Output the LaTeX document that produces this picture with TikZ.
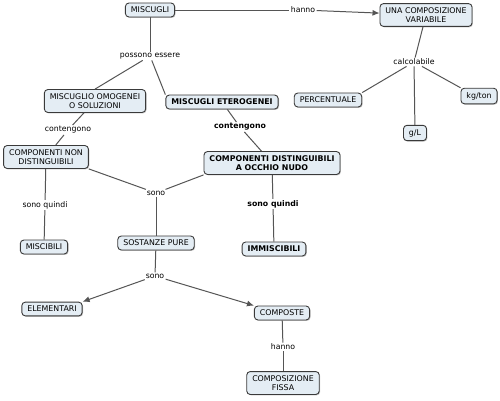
\documentclass[tikz,border=0pt]{standalone}
\usepackage{fontspec}
\setmainfont{DejaVu Sans}
\usetikzlibrary{shadows,arrows.meta}
\definecolor{boxfill}{HTML}{E4EDF4}
\definecolor{boxline}{HTML}{3A3A3A}
\definecolor{linkcol}{HTML}{555555}
\tikzset{
  concept/.style={draw=boxline, fill=boxfill, rounded corners=3.5bp, line width=0.9pt,
    drop shadow={shadow xshift=0.9bp, shadow yshift=-0.9bp, opacity=0.45},
    align=center, font=\fontsize{7.9}{9}\selectfont, inner xsep=5.5bp, inner ysep=4bp},
  bconcept/.style={concept, font=\fontsize{7.9}{9}\selectfont\bfseries},
  lbl/.style={fill=white, inner sep=1.2bp, font=\fontsize{7.8}{9}\selectfont},
  blbl/.style={lbl, font=\fontsize{7.8}{9}\selectfont\bfseries},
  conn/.style={draw=linkcol, line width=1pt},
  arr/.style={conn, -{Latex[length=7bp,width=6bp]}}
}
\begin{document}
\begin{tikzpicture}[x=1bp,y=-1bp]
\useasboundingbox (0,0) rectangle (500,400);
\fill[white] (0,0) rectangle (500,400);
% concepts
\node[concept] (misc) at (150,10) {MISCUGLI};
\node[concept] (ucv) at (426,15) {UNA COMPOSIZIONE\\VARIABILE};
\node[concept] (omo) at (95,101) {MISCUGLIO OMOGENEI\\O SOLUZIONI};
\node[bconcept] (ete) at (222,102) {MISCUGLI ETEROGENEI};
\node[concept] (perc) at (328,100) {PERCENTUALE};
\node[concept] (kg) at (479,96) {kg/ton};
\node[concept] (gl) at (415,133) {g/L};
\node[concept] (cnd) at (46,157) {COMPONENTI NON\\DISTINGUIBILI};
\node[bconcept] (cd) at (272,163) {COMPONENTI DISTINGUIBILI\\A OCCHIO NUDO};
\node[concept] (mis) at (44,247) {MISCIBILI};
\node[concept] (sp) at (156,243) {SOSTANZE PURE};
\node[bconcept] (imm) at (274,249) {IMMISCIBILI};
\node[concept] (el) at (52,309) {ELEMENTARI};
\node[concept] (comp) at (282,313) {COMPOSTE};
\node[concept] (cf) at (283,383) {COMPOSIZIONE\\FISSA};
% link labels
\node[lbl] (hanno1) at (303,10) {hanno};
\node[lbl] (poss) at (150,56) {possono essere};
\node[lbl] (calc) at (414,62) {calcolabile};
\node[lbl] (cont1) at (68,130) {contengono};
\node[blbl] (cont2) at (240,127) {contengono};
\node[lbl] (sono1) at (156,193) {sono};
\node[lbl] (sq1) at (45,205) {sono quindi};
\node[blbl] (sq2) at (273,204) {sono quindi};
\node[lbl] (sono2) at (155,276) {sono};
\node[lbl] (hanno2) at (283,347) {hanno};
% connectors
\draw[conn] (misc) -- (hanno1);
\draw[arr] (hanno1) -- (ucv);
\draw[conn] (misc) -- (poss);
\draw[conn] (poss) -- (omo.north);
\draw[conn] (poss) -- (ete.north west);
\draw[conn] (ucv) -- (calc);
\draw[conn] (calc) -- (perc.north east);
\draw[conn] (calc) -- (gl);
\draw[conn] (calc) -- (kg.north west);
\draw[conn] (omo) -- (cont1);
\draw[conn] (cont1) -- (cnd);
\draw[conn] (ete) -- (cont2);
\draw[conn] (cont2) -- (cd);
\draw[conn] (cnd.south east) -- (sono1);
\draw[conn] (cd.south west) -- (sono1);
\draw[conn] (sono1) -- (sp);
\draw[conn] (cnd) -- (sq1);
\draw[conn] (sq1) -- (mis);
\draw[conn] (cd) -- (sq2);
\draw[conn] (sq2) -- (imm);
\draw[conn] (sp) -- (sono2);
\draw[arr] (sono2) -- (el.north east);
\draw[arr] (sono2) -- (comp.north west);
\draw[conn] (comp) -- (hanno2);
\draw[conn] (hanno2) -- (cf);
\end{tikzpicture}
\end{document}
